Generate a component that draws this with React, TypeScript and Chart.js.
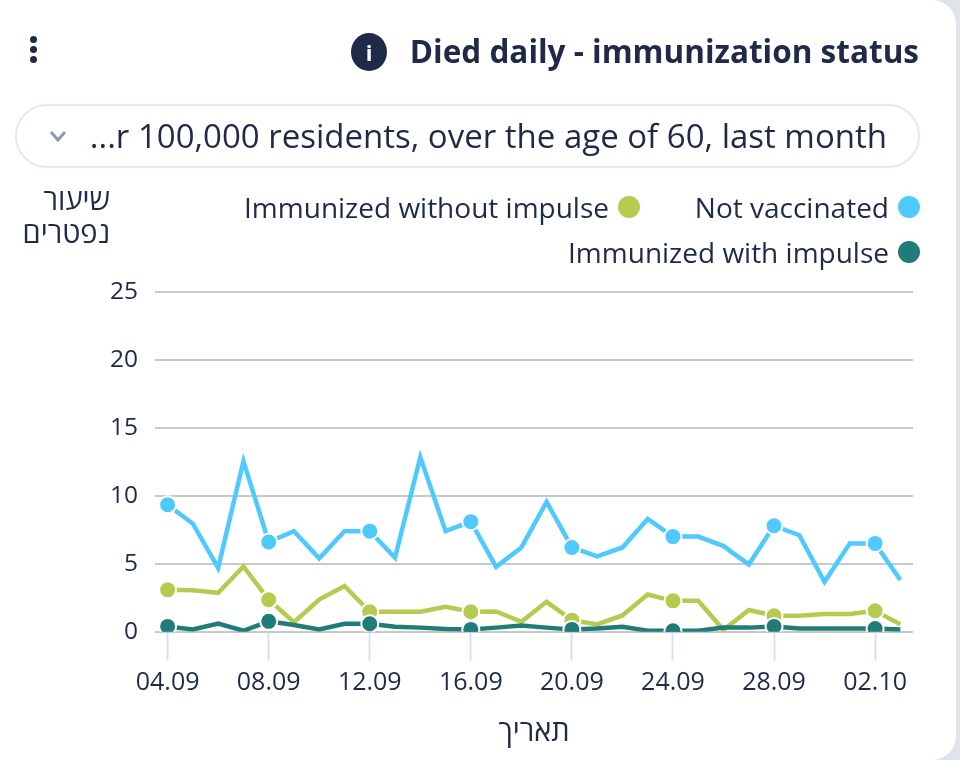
import React, { useEffect, useRef } from "react";
import { Chart, registerables } from "chart.js";

Chart.register(...registerables);

const FONT = '"Open Sans", "Noto Sans", "DejaVu Sans", sans-serif';
const INK = "#1f2a48";

const titleText = "Died daily - immunization status";
const dropdownText = "...r 100,000 residents, over the age of 60, last month";
const yAxisTitle = ["שיעור", "נפטרים"];
const xAxisTitle = "תאריך";

const dates = [
  "04.09", "05.09", "06.09", "07.09", "08.09", "09.09", "10.09", "11.09", "12.09", "13.09",
  "14.09", "15.09", "16.09", "17.09", "18.09", "19.09", "20.09", "21.09", "22.09", "23.09",
  "24.09", "25.09", "26.09", "27.09", "28.09", "29.09", "30.09", "01.10", "02.10", "03.10",
];
const notVaccinated = [
  9.34, 7.95, 4.7, 12.55, 6.6, 7.4, 5.4, 7.4, 7.4, 5.45,
  12.85, 7.4, 8.1, 4.77, 6.2, 9.55, 6.2, 5.55, 6.2, 8.3,
  7.0, 7.0, 6.3, 4.95, 7.8, 7.1, 3.67, 6.5, 6.5, 3.8,
];
const withoutImpulse = [
  3.08, 3.05, 2.86, 4.8, 2.35, 0.7, 2.37, 3.37, 1.47, 1.47,
  1.47, 1.83, 1.47, 1.49, 0.73, 2.2, 0.85, 0.54, 1.2, 2.74,
  2.27, 2.27, 0.12, 1.6, 1.17, 1.17, 1.3, 1.3, 1.54, 0.54,
];
const withImpulse = [
  0.39, 0.17, 0.6, 0.07, 0.76, 0.49, 0.17, 0.59, 0.59, 0.37,
  0.3, 0.2, 0.17, 0.3, 0.46, 0.3, 0.17, 0.24, 0.37, 0.07,
  0.07, 0.07, 0.3, 0.3, 0.39, 0.24, 0.24, 0.24, 0.24, 0.17,
];

const BLUE = "#50c9ff";
const GREEN = "#b6ca4f";
const TEAL = "#207c78";

const seriesNames = ["Not vaccinated", "Immunized without impulse", "Immunized with impulse"];

function makeDataset(label: string, data: number[], color: string, order: number) {
  return {
    label,
    data,
    order,
    borderColor: color,
    backgroundColor: color,
    borderWidth: 4.5,
    tension: 0,
    borderJoinStyle: "miter" as const,
    pointBackgroundColor: color,
    pointBorderColor: "#ffffff",
    pointBorderWidth: 2,
    pointRadius: (ctx: any) => (ctx.dataIndex % 4 === 0 ? 8.5 : 0),
    pointHoverRadius: 8,
  };
}

function LegendItem({ label, color, right, top }: { label: string; color: string; right: number; top: number }) {
  return (
    <div style={{ position: "absolute", right, top, display: "flex", alignItems: "center", gap: 9, whiteSpace: "nowrap", fontSize: 28, lineHeight: "34px", color: INK }}>
      <span>{label}</span>
      <span style={{ width: 22, height: 22, borderRadius: "50%", background: color, display: "inline-block" }} />
    </div>
  );
}

export default function App() {
  const ref = useRef<HTMLCanvasElement>(null);

  useEffect(() => {
    document.body.style.margin = "0";
    const chart = new Chart(ref.current!, {
      type: "line",
      data: {
        labels: dates,
        datasets: [
          makeDataset(seriesNames[0], notVaccinated, BLUE, 3),
          makeDataset(seriesNames[1], withoutImpulse, GREEN, 2),
          makeDataset(seriesNames[2], withImpulse, TEAL, 1),
        ],
      },
      options: {
        responsive: false,
        animation: false,
        layout: { padding: { top: 292, right: 47, bottom: 10, left: 0 } },
        plugins: { legend: { display: false }, tooltip: { enabled: false } },
        scales: {
          x: {
            offset: true,
            border: { display: false },
            grid: {
              drawOnChartArea: false,
              drawTicks: true,
              tickLength: 29,
              tickWidth: 2,
              tickColor: (ctx: any) => (ctx.index % 4 === 0 ? "#d6e2f3" : "rgba(0,0,0,0)"),
            },
            ticks: {
              autoSkip: false,
              maxRotation: 0,
              minRotation: 0,
              padding: 7,
              color: INK,
              font: { family: FONT, size: 25 },
              callback: (_v: any, i: number) => (i % 4 === 0 ? dates[i] : ""),
            },
            title: {
              display: true,
              text: xAxisTitle,
              color: INK,
              font: { family: FONT, size: 29 },
              padding: { top: 10.5, bottom: 0 },
            },
          },
          y: {
            min: 0,
            max: 25,
            afterFit: (s: any) => { s.width = 155; },
            border: { display: false },
            grid: { color: "#c9c9cb", lineWidth: 2, drawTicks: false },
            ticks: {
              stepSize: 5,
              padding: 17,
              color: INK,
              font: { family: FONT, size: 24.5 },
            },
          },
        },
      },
    });
    return () => chart.destroy();
  }, []);

  return (
    <div style={{ position: "relative", width: 960, height: 760, overflow: "hidden", background: "#dfe3ea", fontFamily: FONT, color: INK }}>
      <div style={{ position: "absolute", left: -30, top: 0, width: 986, height: 760, background: "#fff", borderRadius: "0 24px 24px 0" }} />
      <canvas ref={ref} width={960} height={760} style={{ position: "absolute", left: 0, top: 0, display: "block" }} />

      {[39.5, 49.5, 59.5].map((cy) => (
        <span key={cy} style={{ position: "absolute", left: 29.5, top: cy - 3.5, width: 7, height: 7, borderRadius: "50%", background: INK }} />
      ))}
      <div style={{ position: "absolute", left: 351, top: 33, width: 36, height: 38, borderRadius: "50%", background: INK, color: "#fff", fontWeight: 700, fontSize: 22, lineHeight: "38px", textAlign: "center" }}>i</div>
      <div style={{ position: "absolute", right: 41, top: 31, fontSize: 31.5, lineHeight: "40px", fontWeight: 700, whiteSpace: "nowrap" }}>{titleText}</div>

      <div style={{ position: "absolute", left: 15, top: 104, width: 905, height: 64, boxSizing: "border-box", border: "2px solid #e3e8f3", borderRadius: 32, display: "flex", alignItems: "center" }}>
        <svg width="18" height="12" viewBox="0 0 18 12" style={{ position: "absolute", left: 32, top: 24 }}>
          <path d="M2 2 L9 10 L16 2" fill="none" stroke="#8d9ab5" strokeWidth="3" />
        </svg>
        <span style={{ position: "absolute", right: 31, top: 9, fontSize: 33, lineHeight: "42px", whiteSpace: "nowrap" }}>{dropdownText}</span>
      </div>

      <div dir="rtl" style={{ position: "absolute", right: 850, top: 182, fontSize: 29, lineHeight: "33px", textAlign: "right", whiteSpace: "nowrap" }}>
        {yAxisTitle.map((t) => <div key={t}>{t}</div>)}
      </div>

      <LegendItem label={seriesNames[0]} color={BLUE} right={40} top={190} />
      <LegendItem label={seriesNames[1]} color={GREEN} right={320} top={190} />
      <LegendItem label={seriesNames[2]} color={TEAL} right={40} top={235} />
    </div>
  );
}
